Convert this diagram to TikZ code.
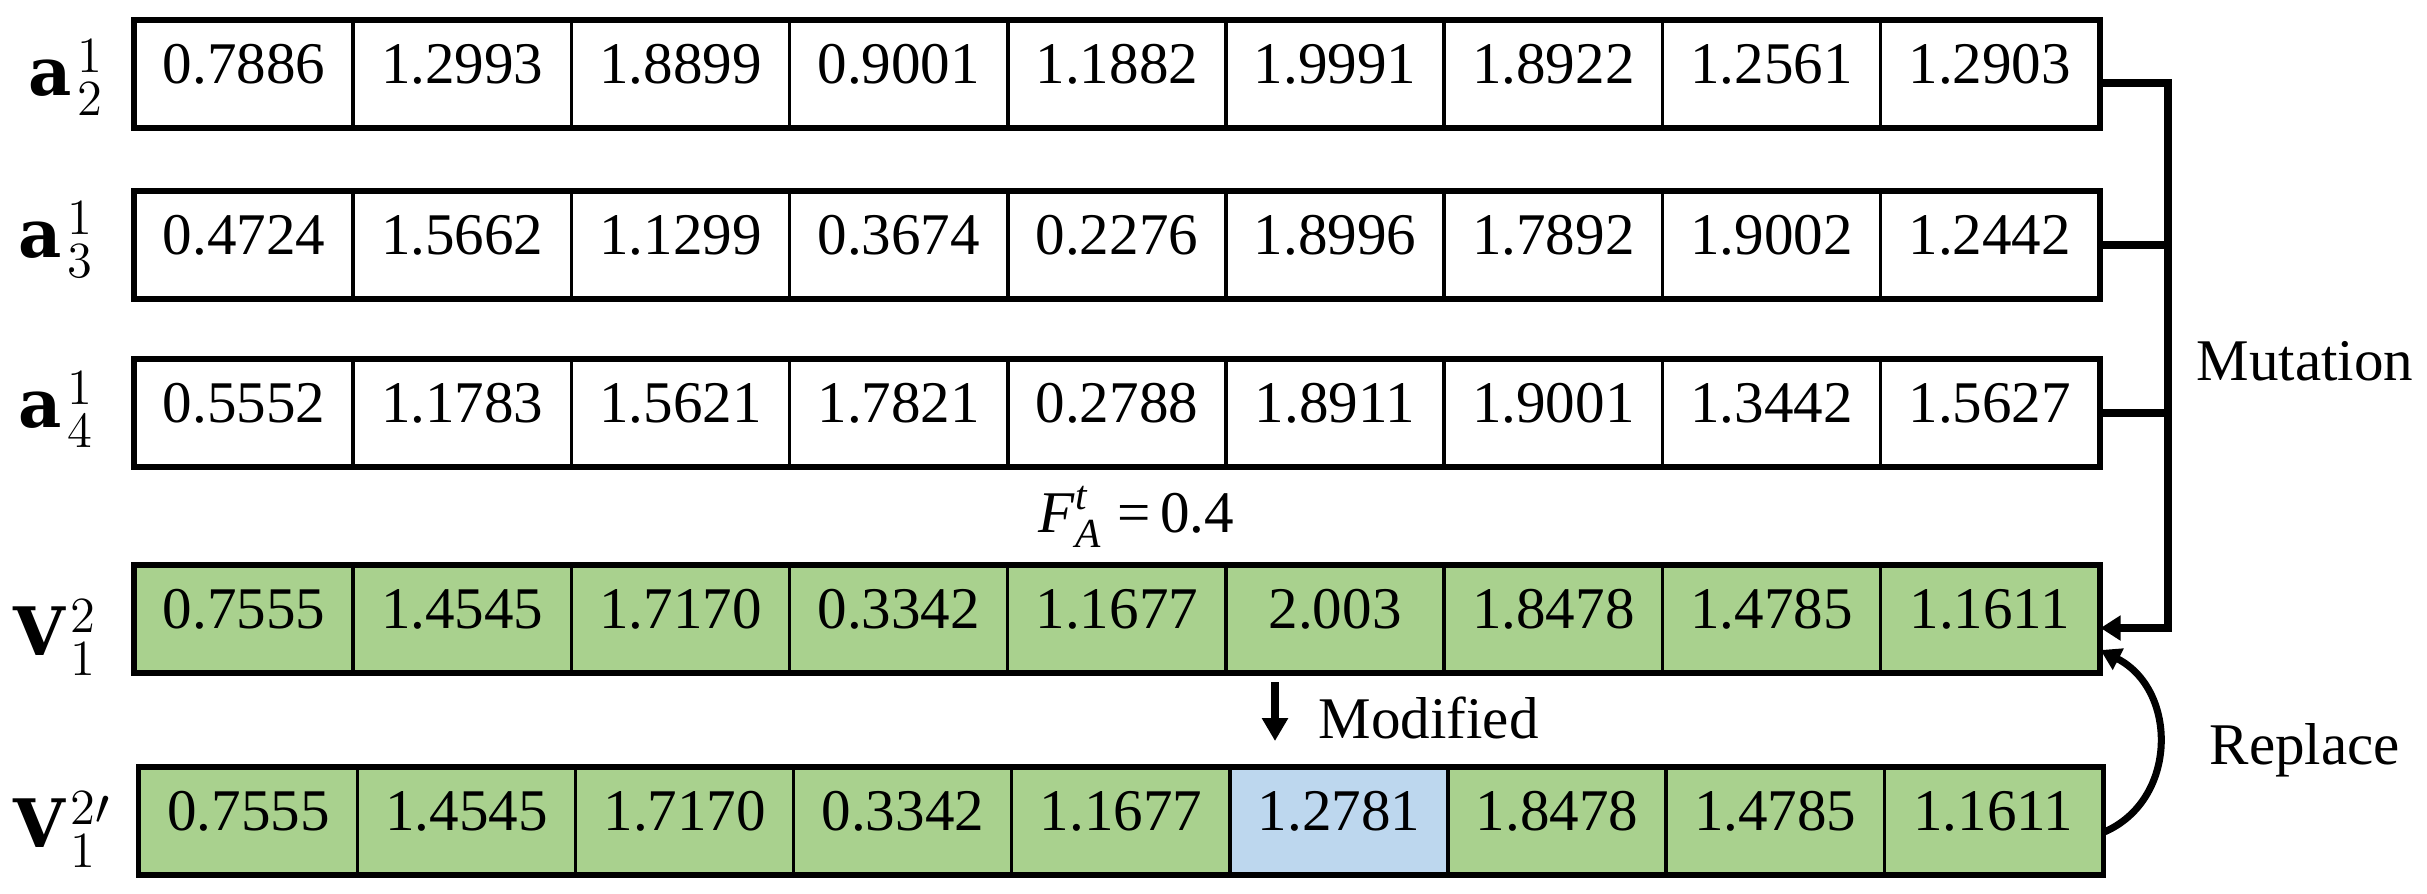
\documentclass[tikz,border=0pt]{standalone}
\usepackage{amsmath}
\usepackage{fontspec}
\setmainfont{Liberation Serif}
\newfontfamily\labfont{DejaVu Serif}
\usetikzlibrary{arrows.meta}
\definecolor{cellgreen}{HTML}{A9D18E}
\definecolor{cellblue}{HTML}{BDD7EE}
\begin{document}
\begin{tikzpicture}[x=0.01cm,y=-0.01cm,
  cellbox/.style={draw, line width=0.95pt, minimum width=2.182cm, minimum height=1.06cm,
    inner sep=0pt, text height=0.68em, text depth=0.15em, font=\fontsize{16.8}{20}\selectfont},
  outerbox/.style={draw, line width=1.2pt},
  rowlabel/.style={anchor=base west, inner sep=0pt, font=\fontsize{19}{22}\selectfont},
  plainlabel/.style={anchor=base west, inner sep=0pt, font=\fontsize{16.8}{20}\selectfont},
  bracket/.style={line width=2.3pt},
  tipstyle/.style={-{Triangle[length=2mm,width=2.4mm]}},
  ]
\useasboundingbox (0,0) rectangle (2427,893);

% row 1
\foreach \v [count=\i] in {0.7886,1.2993,1.8899,0.9001,1.1882,1.9991,1.8922,1.2561,1.2903}
  \node[cellbox] (r1c\i) at ({135+218.2*(\i-0.5)},74) {\v};
% row 2
\foreach \v [count=\i] in {0.4724,1.5662,1.1299,0.3674,0.2276,1.8996,1.7892,1.9002,1.2442}
  \node[cellbox] (r2c\i) at ({135+218.2*(\i-0.5)},245) {\v};
% row 3
\foreach \v [count=\i] in {0.5552,1.1783,1.5621,1.7821,0.2788,1.8911,1.9001,1.3442,1.5627}
  \node[cellbox] (r3c\i) at ({135+218.2*(\i-0.5)},413) {\v};
% row 4
\foreach \v [count=\i] in {0.7555,1.4545,1.7170,0.3342,1.1677,2.003,1.8478,1.4785,1.1611}
  \node[cellbox, fill=cellgreen] (r4c\i) at ({135+218.2*(\i-0.5)},619) {\v};
% row 5
\foreach \v/\c [count=\i] in {0.7555/cellgreen,1.4545/cellgreen,1.7170/cellgreen,0.3342/cellgreen,1.1677/cellgreen,1.2781/cellblue,1.8478/cellgreen,1.4785/cellgreen,1.1611/cellgreen}
  \node[cellbox, fill=\c] (r5c\i) at ({139.5+218.1*(\i-0.5)},821) {\v};

\foreach \r in {1,...,5}
  \draw[outerbox] (r\r c1.north west) rectangle (r\r c9.south east);

% row labels
\node[rowlabel] (la2) at (28,95) {{\labfont\bfseries a}\kern1.5pt$^{1}_{2}$};
\node[rowlabel] (la3) at (18,257) {{\labfont\bfseries a}\kern1.5pt$^{1}_{3}$};
\node[rowlabel] (la4) at (18,427) {{\labfont\bfseries a}\kern1.5pt$^{1}_{4}$};
\node[rowlabel] (lv) at (13,655) {{\labfont\bfseries V}\kern1.5pt$^{2}_{1}$};
\node[rowlabel] (lvp) at (13,847) {{\labfont\bfseries V}\kern1.5pt$^{2\prime}_{1}$};

% F label
\node[plainlabel] (fa) at (1038,532) {\textit{F}$^{\textit{t}}_{\textit{A}}$ =\,0.4};

% mutation bracket
\coordinate (bx) at (2168,0);
\coordinate (r1out) at ([yshift=-0.09cm]r1c9.east);
\coordinate (r4in) at ([yshift=-0.09cm]r4c9.east);
\coordinate (bbot) at (bx |- r4in);
\draw[bracket, tipstyle] (r1out) -| (bbot) -- (r4in);
\draw[bracket] (r2c9.east) -- (bx |- r2c9.east);
\draw[bracket] (r3c9.east) -- (bx |- r3c9.east);
\node[plainlabel] (mut) at (2196,380) {Mutation};

% replace arrow
\coordinate (rs) at ([yshift=-0.11cm]r5c9.east);
\coordinate (re) at ([yshift=-0.31cm]r4c9.east);
\draw[line width=2pt, -{Triangle[length=2mm,width=2.3mm]}] (rs) .. controls (2178,800) and (2178,690) .. (re);
\node[plainlabel] (rep) at (2209,764) {Replace};

% modified arrow
\coordinate (mtop) at (1275,682);
\coordinate (mbot) at (1275,741);
\draw[line width=2.5pt, -{Triangle[length=2.3mm,width=2.5mm]}] (mtop) -- (mbot);
\node[plainlabel] (mod) at (1318,738) {Modified};
\end{tikzpicture}
\end{document}
